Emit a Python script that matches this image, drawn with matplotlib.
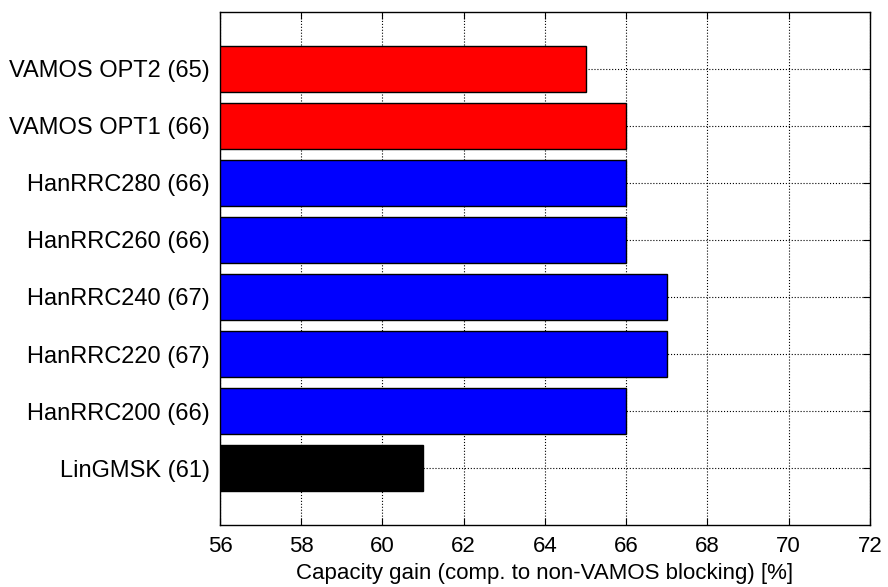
import numpy as np
import matplotlib.pyplot as plt

plt.rcParams['font.family'] = ['Liberation Sans', 'DejaVu Sans']

# bottom to top
labels = ['LinGMSK (61)', 'HanRRC200 (66)', 'HanRRC220 (67)', 'HanRRC240 (67)',
          'HanRRC260 (66)', 'HanRRC280 (66)', 'VAMOS OPT1 (66)', 'VAMOS OPT2 (65)']
gains = [61, 66, 67, 67, 66, 66, 66, 65]
colors = ['#000000', '#0000ff', '#0000ff', '#0000ff', '#0000ff', '#0000ff', '#ff0000', '#ff0000']

fig = plt.figure(figsize=(8.88, 5.87), dpi=100)
ax = fig.add_axes([0.2477, 0.1056, 0.7320, 0.8740])

base = 56
pos = np.arange(1, len(labels) + 1)
ax.barh(pos, np.array(gains) - base, left=base, height=0.8, color=colors,
        edgecolor='black', linewidth=1, zorder=3)

ax.set_xlim(56, 72)
ax.set_ylim(0, 9)
ax.set_xticks(np.arange(56, 73, 2))
ax.set_yticks(pos)
ax.set_yticklabels(labels)
ax.grid(True, linestyle=':', color='black', linewidth=0.8, zorder=0)
ax.tick_params(direction='in', top=True, right=True, labelsize=16, length=5)
ax.tick_params(axis='x', pad=8)
ax.tick_params(axis='y', pad=7, labelsize=17)
ax.set_xlabel('Capacity gain (comp. to non-VAMOS blocking) [%]', fontsize=16, labelpad=4)
for s in ax.spines.values():
    s.set_linewidth(1)

plt.savefig('out.png', dpi=100)
